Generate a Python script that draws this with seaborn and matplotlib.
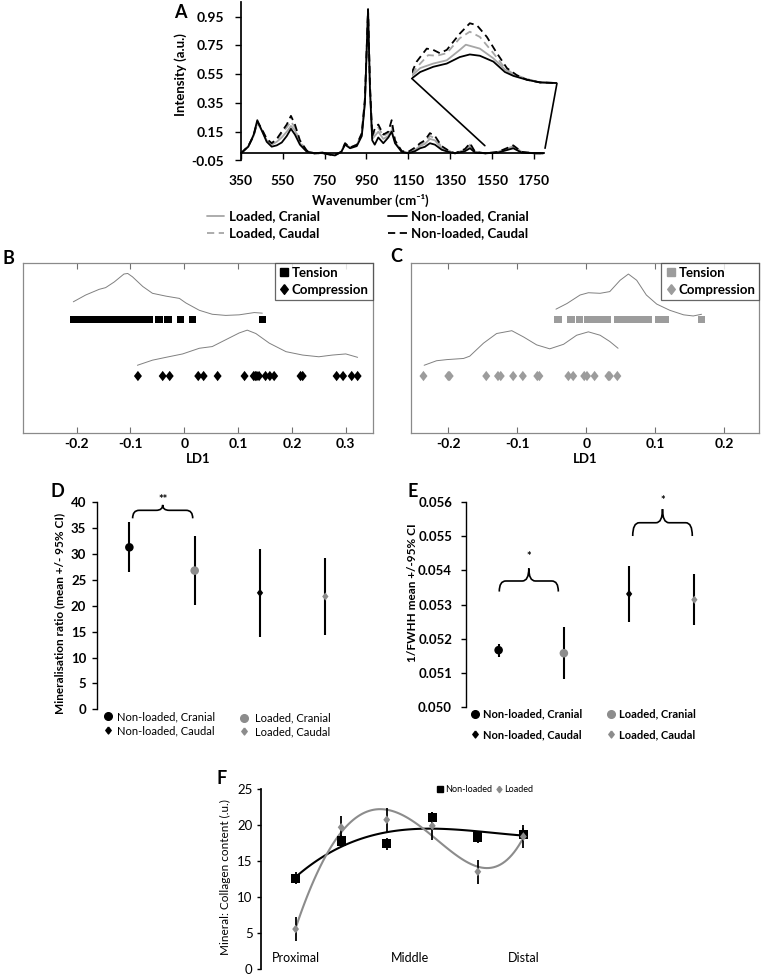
import numpy as np
import pandas as pd
import seaborn as sns
import matplotlib
matplotlib.use('Agg')
import matplotlib.pyplot as plt
from matplotlib.path import Path
from matplotlib.patches import PathPatch
from matplotlib.lines import Line2D

# ---------------- data : panel A (Raman spectra) ----------------
a_series = ['Loaded, Cranial', 'Loaded, Caudal', 'Non-loaded, Cranial', 'Non-loaded, Caudal']
a_wn = [350, 385, 410, 428, 449, 473, 497, 521, 545, 569, 589, 608, 632, 664, 700, 740, 780, 800,
        830, 848, 872, 904, 928, 943, 958, 967, 978, 990, 1007, 1031, 1055, 1071, 1087, 1119, 1150,
        1183, 1207, 1230, 1254, 1278, 1310, 1342, 1374, 1422, 1446, 1470, 1520, 1580, 1629, 1653,
        1693, 1757, 1796]
a_nl_cran = [0.00, 0.046, 0.127, 0.23, 0.16, 0.08, 0.046, 0.055, 0.075, 0.12, 0.17, 0.13, 0.06, 0.012,
             0.0, 0.005, -0.01, -0.015, 0.01, 0.06, 0.035, 0.05, 0.12, 0.35, 1.0, 0.45, 0.09, 0.06,
             0.11, 0.07, 0.11, 0.15, 0.07, 0.01, 0.0, 0.015, 0.035, 0.045, 0.07, 0.06, 0.025, 0.01,
             0.0, 0.015, 0.035, 0.005, 0.0, 0.005, 0.025, 0.035, 0.005, 0.0, 0.0]
a_nl_caud = [0.00, 0.05, 0.12, 0.22, 0.17, 0.10, 0.07, 0.10, 0.15, 0.20, 0.26, 0.20, 0.09, 0.02,
             0.0, 0.0, -0.01, -0.01, 0.01, 0.07, 0.04, 0.06, 0.14, 0.38, 1.0, 0.48, 0.12, 0.17,
             0.20, 0.13, 0.15, 0.23, 0.09, 0.015, 0.01, 0.04, 0.07, 0.09, 0.14, 0.12, 0.05, 0.02,
             0.0, 0.03, 0.07, 0.01, 0.0, 0.01, 0.04, 0.055, 0.01, 0.0, 0.0]
a_l_cran = [0.00, 0.05, 0.12, 0.21, 0.16, 0.09, 0.06, 0.08, 0.11, 0.15, 0.19, 0.16, 0.07, 0.015,
            0.0, 0.005, -0.01, -0.01, 0.01, 0.065, 0.04, 0.055, 0.13, 0.36, 0.99, 0.46, 0.10, 0.12,
            0.15, 0.10, 0.12, 0.16, 0.08, 0.012, 0.005, 0.025, 0.05, 0.065, 0.10, 0.09, 0.035, 0.015,
            0.0, 0.02, 0.05, 0.008, 0.0, 0.008, 0.03, 0.045, 0.008, 0.0, 0.0]
a_l_caud = [0.00, 0.05, 0.12, 0.22, 0.17, 0.10, 0.07, 0.09, 0.14, 0.18, 0.22, 0.18, 0.08, 0.02,
            0.0, 0.0, -0.01, -0.01, 0.01, 0.07, 0.04, 0.06, 0.135, 0.37, 0.99, 0.47, 0.11, 0.15,
            0.18, 0.12, 0.14, 0.19, 0.085, 0.015, 0.008, 0.035, 0.06, 0.08, 0.12, 0.105, 0.045, 0.018,
            0.0, 0.025, 0.06, 0.01, 0.0, 0.01, 0.035, 0.05, 0.01, 0.0, 0.0]
a_xticks = [350, 550, 750, 950, 1150, 1350, 1550, 1750]
a_yticks = [-0.05, 0.15, 0.35, 0.55, 0.75, 0.95]

# inset (zoom of 1530-1820 cm-1, relative intensity)
in_nl_cran_wn = [1530, 1547, 1573, 1600, 1626, 1646, 1666, 1693, 1716, 1733, 1760, 1786, 1820]
in_nl_cran = [0.10, 0.20, 0.28, 0.33, 0.43, 0.47, 0.45, 0.36, 0.20, 0.14, 0.08, 0.04, 0.03]
in_l_cran_wn = [1530, 1547, 1573, 1600, 1626, 1638, 1666, 1693, 1716, 1733, 1760, 1786, 1820]
in_l_cran = [0.14, 0.26, 0.33, 0.38, 0.54, 0.62, 0.56, 0.41, 0.24, 0.15, 0.09, 0.04, 0.03]
in_l_caud_wn = [1530, 1547, 1563, 1580, 1600, 1626, 1646, 1666, 1693, 1716, 1733, 1760, 1786, 1820]
in_l_caud = [0.17, 0.33, 0.46, 0.45, 0.49, 0.72, 0.82, 0.74, 0.49, 0.26, 0.17, 0.09, 0.04, 0.03]
in_nl_caud_wn = [1530, 1540, 1560, 1573, 1586, 1600, 1626, 1646, 1660, 1680, 1700, 1720, 1740, 1760, 1786, 1820]
in_nl_caud = [0.19, 0.36, 0.56, 0.54, 0.49, 0.54, 0.79, 0.95, 0.92, 0.74, 0.49, 0.26, 0.15, 0.08, 0.04, 0.03]

# ---------------- data : panels B, C (LD1 scores) ----------------
b_tension = [-0.205, -0.2, -0.195, -0.19, -0.185, -0.18, -0.175, -0.17, -0.165, -0.16, -0.15, -0.14,
             -0.13, -0.12, -0.115, -0.11, -0.105, -0.1, -0.095, -0.09, -0.085, -0.08, -0.075, -0.07,
             -0.065, -0.047, -0.03, -0.007, 0.015, 0.145]
b_compression = [-0.086, -0.040, -0.027, 0.026, 0.036, 0.062, 0.112, 0.129, 0.132, 0.135, 0.139,
                 0.151, 0.159, 0.167, 0.216, 0.220, 0.283, 0.295, 0.311, 0.322]
b_kde_t_x = [-0.206, -0.183, -0.158, -0.146, -0.130, -0.112, -0.105, -0.096, -0.077, -0.059, -0.034,
             -0.009, 0.003, 0.028, 0.052, 0.077, 0.102, 0.130, 0.145]
b_kde_t_y = [2.31, 2.43, 2.53, 2.56, 2.66, 2.80, 2.81, 2.75, 2.58, 2.46, 2.41, 2.37, 2.29, 2.16, 2.09,
             2.07, 2.08, 2.12, 2.11]
b_kde_c_x = [-0.087, -0.059, -0.034, -0.003, 0.028, 0.052, 0.077, 0.102, 0.117, 0.133, 0.158, 0.189,
             0.220, 0.250, 0.275, 0.300, 0.322]
b_kde_c_y = [1.19, 1.28, 1.33, 1.39, 1.49, 1.52, 1.64, 1.76, 1.81, 1.75, 1.58, 1.43, 1.37, 1.34, 1.37,
             1.39, 1.33]
b_xticks = [-0.2, -0.1, 0, 0.1, 0.2, 0.3]

c_tension = [-0.041, -0.022, -0.01, 0.002, 0.012, 0.022, 0.03, 0.045, 0.05, 0.055, 0.06, 0.065, 0.07,
             0.075, 0.08, 0.085, 0.09, 0.105, 0.115, 0.167]
c_compression = [-0.236, -0.2, -0.198, -0.145, -0.128, -0.124, -0.106, -0.092, -0.071, -0.068, -0.026,
                 -0.019, -0.003, 0.001, 0.012, 0.032, 0.034, 0.045]
c_kde_t_x = [-0.044, -0.028, -0.009, 0.003, 0.020, 0.034, 0.049, 0.061, 0.073, 0.087, 0.102, 0.121,
             0.141, 0.155, 0.167]
c_kde_t_y = [2.18, 2.28, 2.43, 2.47, 2.46, 2.49, 2.69, 2.80, 2.69, 2.43, 2.27, 2.16, 2.08, 2.06, 2.09]
c_kde_c_x = [-0.235, -0.217, -0.202, -0.178, -0.169, -0.149, -0.130, -0.108, -0.091, -0.072, -0.053,
             -0.033, -0.014, 0.003, 0.020, 0.034, 0.046]
c_kde_c_y = [1.19, 1.27, 1.29, 1.31, 1.35, 1.58, 1.75, 1.80, 1.69, 1.55, 1.48, 1.56, 1.72, 1.78, 1.72,
             1.61, 1.49]
c_xticks = [-0.2, -0.1, 0, 0.1, 0.2]

# ---------------- data : panels D, E ----------------
de_groups = ['Non-loaded, Cranial', 'Loaded, Cranial', 'Non-loaded, Caudal', 'Loaded, Caudal']
d_mean = [31.3, 26.8, 22.5, 21.8]
d_lo = [26.6, 20.2, 14.0, 14.4]
d_hi = [36.1, 33.5, 31.0, 29.2]
d_yticks = [0, 5, 10, 15, 20, 25, 30, 35, 40]

e_mean = [0.05166, 0.05157, 0.05331, 0.05314]
e_lo = [0.05147, 0.05080, 0.05250, 0.05239]
e_hi = [0.05184, 0.05233, 0.05412, 0.05390]
e_yticks = [0.050, 0.051, 0.052, 0.053, 0.054, 0.055, 0.056]

# ---------------- data : panel F ----------------
f_pos = [0, 1, 2, 3, 4, 5]
f_nl = [12.6, 17.8, 17.4, 21.1, 18.35, 18.7]
f_nl_err = [0.8, 0.8, 0.8, 0.8, 0.8, 0.9]
f_l = [5.5, 19.7, 20.75, 19.9, 13.5, 18.4]
f_l_err = [1.65, 1.6, 1.7, 2.0, 1.65, 1.65]
f_cat_pos = [0, 2.5, 5]
f_cat = ['Proximal', 'Middle', 'Distal']
f_yticks = [0, 5, 10, 15, 20, 25]

# ---------------- style ----------------
sns.set_theme(style='white')
plt.rcParams['font.family'] = ['Lato', 'DejaVu Sans']
for k in ['text.color', 'axes.labelcolor', 'xtick.color', 'ytick.color', 'axes.edgecolor']:
    plt.rcParams[k] = 'black'

BLACK = '#000000'
GRAY_LINE = '#a6a6a6'
GRAY_PT = '#8c8c8c'
GRAY_LD = '#9c9c9c'

W, H = 761.0, 975.0
fig = plt.figure(figsize=(7.61, 9.75), dpi=100)
fig.patch.set_facecolor('white')


def box(x0, y0, x1, y1):
    return [x0 / W, 1 - y1 / H, (x1 - x0) / W, (y1 - y0) / H]


def fx(px):
    return px / W


def fy(py):
    return 1 - py / H


DIAMOND = [(0, 1), (0.78, 0), (0, -1), (-0.78, 0), (0, 1)]


def brace(ax, x0, x1, yb, yh, yt, r):
    xm = (x0 + x1) / 2.0
    verts = [(x0, yb), (x0, yh), (x0 + r, yh), (xm - r, yh), (xm, yh), (xm, yt),
             (xm, yh), (xm + r, yh), (x1 - r, yh), (x1, yh), (x1, yb)]
    codes = [Path.MOVETO, Path.CURVE3, Path.CURVE3, Path.LINETO, Path.CURVE3, Path.CURVE3,
             Path.CURVE3, Path.CURVE3, Path.LINETO, Path.CURVE3, Path.CURVE3]
    ax.add_patch(PathPatch(Path(verts, codes), fc='none', ec='black', lw=1.2, clip_on=False))


def place_legend(handles, labels, x_left, y_top, fs, weight, hl, htp, ls):
    lg = fig.legend(handles, labels, loc='upper left', bbox_to_anchor=(fx(x_left), fy(y_top)),
                    frameon=False, borderpad=0, borderaxespad=0, handlelength=hl,
                    handletextpad=htp, labelspacing=ls, prop={'size': fs, 'weight': weight})
    return lg


# ================= Panel A =================
axA = fig.add_axes(box(241, 2.1, 544, 160.5))
spec = pd.concat([
    pd.DataFrame({'wn': a_wn, 'I': a_l_cran, 'series': 'Loaded, Cranial'}),
    pd.DataFrame({'wn': a_wn, 'I': a_l_caud, 'series': 'Loaded, Caudal'}),
    pd.DataFrame({'wn': a_wn, 'I': a_nl_caud, 'series': 'Non-loaded, Caudal'}),
    pd.DataFrame({'wn': a_wn, 'I': a_nl_cran, 'series': 'Non-loaded, Cranial'}),
], ignore_index=True)
pal = {'Loaded, Cranial': GRAY_LINE, 'Loaded, Caudal': GRAY_LINE,
       'Non-loaded, Cranial': BLACK, 'Non-loaded, Caudal': BLACK}
dsh = {'Loaded, Cranial': '', 'Loaded, Caudal': (4, 2.5),
       'Non-loaded, Cranial': '', 'Non-loaded, Caudal': (4, 2.5)}
order = ['Loaded, Cranial', 'Loaded, Caudal', 'Non-loaded, Caudal', 'Non-loaded, Cranial']
sns.lineplot(data=spec, x='wn', y='I', hue='series', style='series', hue_order=order,
             style_order=order, palette=pal, dashes=dsh, estimator=None, sort=False, lw=1.3,
             legend=False, ax=axA)
axA.set_xlim(350, 1800)
axA.set_ylim(-0.05, 1.05)
axA.spines['top'].set_visible(False)
axA.spines['right'].set_visible(False)
axA.spines['bottom'].set_position(('data', 0))
axA.set_xticks(a_xticks)
axA.set_xticklabels([str(t) for t in a_xticks], fontweight='bold', fontsize=10)
axA.set_yticks(a_yticks)
axA.set_yticklabels(['%.2f' % t for t in a_yticks], fontweight='bold', fontsize=10)
axA.tick_params(axis='both', direction='out', length=4, width=1, bottom=True, left=True)
axA.tick_params(axis='x', pad=11.5)
axA.tick_params(axis='y', pad=8.5)
axA.set_xlabel('')
axA.set_ylabel('')
axA.plot([1517, 1167], [0.053, 0.52], color='black', lw=1.2, clip_on=False)
axA.plot([1805, 1862], [0.035, 0.486], color='black', lw=1.2, clip_on=False)
fig.text(fx(370), fy(200), 'Wavenumber (cm\u207b\u00b9)', ha='center', va='center',
         fontweight='bold', fontsize=9.5, family=['Lato', 'DejaVu Sans'])
fig.text(fx(181), fy(75), 'Intensity (a.u.)', rotation=90, ha='center', va='center',
         fontweight='bold', fontsize=9.5)
fig.text(fx(180), fy(13), 'A', ha='center', va='center', fontweight='bold', fontsize=13)

axI = fig.add_axes(box(411.7, 20, 557, 85))
inset = pd.concat([
    pd.DataFrame({'wn': in_l_cran_wn, 'I': in_l_cran, 'series': 'Loaded, Cranial'}),
    pd.DataFrame({'wn': in_l_caud_wn, 'I': in_l_caud, 'series': 'Loaded, Caudal'}),
    pd.DataFrame({'wn': in_nl_caud_wn, 'I': in_nl_caud, 'series': 'Non-loaded, Caudal'}),
    pd.DataFrame({'wn': in_nl_cran_wn, 'I': in_nl_cran, 'series': 'Non-loaded, Cranial'}),
], ignore_index=True)
sns.lineplot(data=inset, x='wn', y='I', hue='series', style='series', hue_order=order,
             style_order=order, palette=pal, dashes=dsh, estimator=None, sort=False, lw=1.3,
             legend=False, ax=axI)
axI.set_xlim(1530, 1820)
axI.set_ylim(0, 1)
axI.axis('off')

hA1 = [Line2D([], [], color=GRAY_LINE, lw=1.3), Line2D([], [], color=GRAY_LINE, lw=1.3, dashes=(4, 2.5))]
hA2 = [Line2D([], [], color=BLACK, lw=1.3), Line2D([], [], color=BLACK, lw=1.3, dashes=(4, 2.5))]
place_legend(hA1, ['Loaded, Cranial', 'Loaded, Caudal'], 206.7, 210.5, 9.5, 'bold', 1.3, 0.4, 0.35)
place_legend(hA2, ['Non-loaded, Cranial', 'Non-loaded, Caudal'], 388.3, 210.5, 9.5, 'bold', 1.4, 0.3, 0.35)


# ================= Panels B, C =================
def ld_panel(axbox, xlim, xticks, tension, compression, kt_x, kt_y, kc_x, kc_y, color, label, lpos):
    ax = fig.add_axes(box(*axbox))
    sns.lineplot(x=kt_x, y=kt_y, color='#808080', lw=0.7, sort=False, estimator=None, ax=ax)
    sns.lineplot(x=kc_x, y=kc_y, color='#808080', lw=0.7, sort=False, estimator=None, ax=ax)
    sns.scatterplot(x=tension, y=[2] * len(tension), marker='s', color=color, s=30,
                    edgecolor='none', ax=ax, zorder=3)
    sns.scatterplot(x=compression, y=[1] * len(compression), marker=DIAMOND, color=color, s=55,
                    edgecolor='none', ax=ax, zorder=3)
    ax.set_xlim(*xlim)
    ax.set_ylim(0, 3)
    ax.set_yticks([])
    ax.set_xticks(xticks)
    ax.set_xticklabels(['%g' % t for t in xticks], fontweight='bold', fontsize=10)
    ax.tick_params(axis='x', direction='in', length=4, width=0.8, top=True, bottom=True,
                   color='#707070', pad=4)
    for s in ax.spines.values():
        s.set_color('#8a8a8a')
        s.set_linewidth(0.9)
    ax.set_xlabel('LD1', fontweight='bold', fontsize=9.5, labelpad=2)
    ax.set_ylabel('')
    hnd = [Line2D([], [], marker='s', color=color, ls='', markersize=5.5),
           Line2D([], [], marker=DIAMOND, color=color, ls='', markersize=7)]
    lg = ax.legend(hnd, ['Tension', 'Compression'], loc='upper right', bbox_to_anchor=(1, 1),
                   borderaxespad=0, frameon=True, fancybox=False, handlelength=0.8,
                   handletextpad=0.2, borderpad=0.3, labelspacing=0.4,
                   prop={'size': 9.5, 'weight': 'bold'})
    lg.get_frame().set_edgecolor('#404040')
    lg.get_frame().set_linewidth(0.9)
    fig.text(fx(lpos[0]), fy(lpos[1]), label, ha='center', va='center', fontweight='bold', fontsize=13)
    return ax


ld_panel((22.7, 262.7, 372.7, 432.7), (-0.3, 0.35), b_xticks, b_tension, b_compression,
         b_kde_t_x, b_kde_t_y, b_kde_c_x, b_kde_c_y, BLACK, 'B', (8, 258))
ld_panel((410.7, 262.7, 759.3, 432.7), (-0.2545, 0.2507), c_xticks, c_tension, c_compression,
         c_kde_t_x, c_kde_t_y, c_kde_c_x, c_kde_c_y, GRAY_LD, 'C', (396, 257))


# ================= Panels D, E =================
de_colors = [BLACK, GRAY_PT, BLACK, GRAY_PT]
de_markers = ['o', 'o', DIAMOND, DIAMOND]
de_sizes = [38, 38, 34, 34]


def ci_panel(axbox, ylim, yticks, fmt, mean, lo, hi, ylabel, ylabel_xy, fs_tick, pad):
    ax = fig.add_axes(box(*axbox))
    xs = np.arange(len(mean))
    m = np.array(mean)
    ax.errorbar(xs, m, yerr=[m - np.array(lo), np.array(hi) - m], fmt='none', ecolor='black',
                elinewidth=1.5, capsize=0, zorder=2)
    for i in range(len(mean)):
        sns.scatterplot(x=[xs[i]], y=[mean[i]], marker=de_markers[i], color=de_colors[i],
                        s=de_sizes[i], edgecolor='none', ax=ax, zorder=3)
    ax.set_xlim(-0.5, 3.5)
    ax.set_ylim(*ylim)
    ax.set_xticks([])
    ax.set_yticks(yticks)
    ax.set_yticklabels([fmt % t for t in yticks], fontweight='bold', fontsize=fs_tick)
    ax.tick_params(axis='y', direction='out', length=3.5, width=1, left=True, pad=pad)
    for s in ['top', 'right', 'bottom']:
        ax.spines[s].set_visible(False)
    ax.spines['left'].set_linewidth(1.0)
    ax.set_ylabel('')
    fig.text(fx(ylabel_xy[0]), fy(ylabel_xy[1]), ylabel, rotation=90,
             ha='center', va='center', fontweight='bold', fontsize=8.5)
    return ax


axD = ci_panel((96.7, 502.3, 358, 709.3), (0, 40), d_yticks, '%d', d_mean, d_lo, d_hi,
               'Mineralisation ratio (mean +/- 95% CI)', (60, 613), 9.5, 4)
brace(axD, 0.05, 0.97, 36.9, 38.45, 39.5, 0.1)
axD.text(0.51, 40.5, '**', ha='center', va='center', fontsize=8, fontweight='bold', clip_on=False)
fig.text(fx(57), fy(492), 'D', ha='center', va='center', fontweight='bold', fontsize=13)

axE = ci_panel((466, 502.3, 727, 706.7), (0.050, 0.056), e_yticks, '%.3f', e_mean, e_lo, e_hi,
               '1/FWHH mean +/-95% CI', (413, 593), 9.5, 6.5)
brace(axE, 0.01, 0.915, 0.05338, 0.05369, 0.05406, 0.1)
brace(axE, 2.055, 2.968, 0.05501, 0.0554, 0.0558, 0.1)
axE.text(0.46, 0.05442, '*', ha='center', va='center', fontsize=8, fontweight='bold')
axE.text(2.51, 0.05606, '*', ha='center', va='center', fontsize=8, fontweight='bold', clip_on=False)
fig.text(fx(413), fy(492), 'E', ha='center', va='center', fontweight='bold', fontsize=13)

hD1 = [Line2D([], [], marker='o', color=BLACK, ls='', markersize=5.5),
       Line2D([], [], marker=DIAMOND, color=BLACK, ls='', markersize=5)]
hD2 = [Line2D([], [], marker='o', color=GRAY_PT, ls='', markersize=5.5),
       Line2D([], [], marker=DIAMOND, color=GRAY_PT, ls='', markersize=5)]
place_legend(hD1, ['Non-loaded, Cranial', 'Non-loaded, Caudal'], 102.5, 711, 8, 'normal', 1.0, 0.3, 0.3)
place_legend(hD2, ['Loaded, Cranial', 'Loaded, Caudal'], 238, 712.5, 8, 'normal', 1.0, 0.5, 0.25)
place_legend(hD1, ['Non-loaded, Cranial', 'Non-loaded, Caudal'], 469, 708.5, 8, 'bold', 1.0, 0.3, 0.85)
place_legend(hD2, ['Loaded, Cranial', 'Loaded, Caudal'], 605, 708.5, 8, 'bold', 1.0, 0.3, 0.85)

# ================= Panel F =================
axF = fig.add_axes(box(261, 789.3, 558, 968.5))
sns.regplot(x=f_pos, y=f_nl, order=3, ci=None, scatter=False, color=BLACK, truncate=True,
            line_kws={'lw': 1.5}, ax=axF)
sns.regplot(x=f_pos, y=f_l, order=4, ci=None, scatter=False, color=GRAY_PT, truncate=True,
            line_kws={'lw': 1.5}, ax=axF)
axF.errorbar(f_pos, f_nl, yerr=f_nl_err, fmt='none', ecolor='black', elinewidth=1.3, capsize=0, zorder=2)
axF.errorbar(f_pos, f_l, yerr=f_l_err, fmt='none', ecolor='black', elinewidth=1.3, capsize=0, zorder=2)
sns.scatterplot(x=f_pos, y=f_nl, marker='s', color=BLACK, s=45, edgecolor='none', ax=axF, zorder=3)
sns.scatterplot(x=f_pos, y=f_l, marker=DIAMOND, color=GRAY_PT, s=40, edgecolor='none', ax=axF, zorder=4)
axF.set_xlim(-0.76, 5.76)
axF.set_ylim(0, 25)
axF.set_yticks(f_yticks)
axF.set_yticklabels([str(t) for t in f_yticks], fontsize=9.5)
axF.set_xticks(f_cat_pos)
axF.set_xticklabels(f_cat, fontsize=9)
axF.tick_params(axis='x', length=0, pad=-12, bottom=True)
axF.tick_params(axis='y', direction='out', length=3, width=1, left=True, pad=3)
for s in ['top', 'right', 'bottom']:
    axF.spines[s].set_visible(False)
axF.set_xlabel('')
axF.set_ylabel('')
fig.text(fx(225), fy(877), 'Mineral: Collagen content (.u.)', rotation=90, ha='center', va='center',
         fontsize=8.5)
fig.text(fx(222), fy(779), 'F', ha='center', va='center', fontweight='bold', fontsize=13)
hF1 = [Line2D([], [], marker='s', color=BLACK, ls='', markersize=4.5)]
hF2 = [Line2D([], [], marker=DIAMOND, color=GRAY_PT, ls='', markersize=4.5)]
place_legend(hF1, ['Non-loaded'], 436, 785, 6.5, 'normal', 0.8, 0.2, 0.2)
place_legend(hF2, ['Loaded'], 495, 785, 6.5, 'normal', 0.8, 0.2, 0.2)

fig.savefig('out.png', dpi=100, facecolor='white')
